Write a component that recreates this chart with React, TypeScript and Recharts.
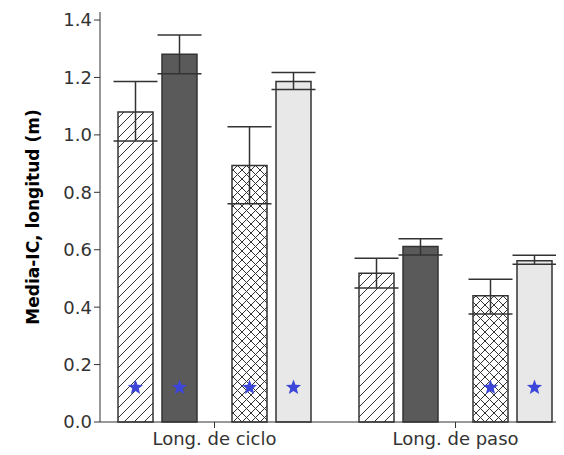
import { BarChart, Bar, XAxis, YAxis, ErrorBar, LabelList } from "recharts";

const categories = ["Long. de ciclo", "Long. de paso"];
const means1 = [1.08, 0.518];
const means2 = [1.281, 0.611];
const means3 = [0.893, 0.44];
const means4 = [1.186, 0.562];
// [lower, upper] of the CI
const ci1 = [[0.979, 1.186], [0.467, 0.57]];
const ci2 = [[1.213, 1.348], [0.582, 0.638]];
const ci3 = [[0.76, 1.028], [0.376, 0.497]];
const ci4 = [[1.158, 1.217], [0.549, 0.581]];
// star markers (significance), null = none
const stars1 = [0.12, null];
const stars2 = [0.12, null];
const stars3 = [0.12, 0.12];
const stars4 = [0.12, 0.12];
const yTicks = [0, 0.2, 0.4, 0.6, 0.8, 1.0, 1.2, 1.4];

const means = [means1, means2, means3, means4];
const cis = [ci1, ci2, ci3, ci4];
const stars = [stars1, stars2, stars3, stars4];

const data = categories.map((name, i) => {
  const row: any = { name };
  means.forEach((m, k) => {
    row[`v${k}`] = m[i];
    row[`e${k}`] = [m[i] - cis[k][i][0], cis[k][i][1] - m[i]];
    row[`s${k}`] = stars[k][i];
  });
  return row;
});

const FONT = "DejaVu Sans, Verdana, sans-serif";

function starPath(cx: number, cy: number, ro: number, ri: number) {
  const pts: string[] = [];
  for (let i = 0; i < 10; i++) {
    const r = i % 2 === 0 ? ro : ri;
    const a = -Math.PI / 2 + (i * Math.PI) / 5;
    pts.push(`${cx + r * Math.cos(a)},${cy + r * Math.sin(a)}`);
  }
  return pts.join(" ");
}

const makeStar = (k: number) => (props: any) => {
  const { x, y, width, height, value, index } = props;
  if (value == null) return null;
  const barVal = data[index][`v${k}`];
  const cx = x + width / 2;
  const cy = y + height - (height * value) / barVal;
  return <polygon key={`st-${k}-${index}`} points={starPath(cx, cy, 8, 3.4)} fill="#3c46d8" />;
};

const fills = ["url(#hatch)", "#5a5a5a", "url(#cross)", "#e8e8e8"];

export default function App() {
  return (
    <BarChart
      width={556}
      height={447}
      data={data}
      margin={{ top: 4, right: 0, left: 0, bottom: 0 }}
      barGap={9}
    >
      <defs>
        <pattern id="hatch" patternUnits="userSpaceOnUse" width="10" height="10">
          <rect width="10" height="10" fill="#fff" />
          <path d="M-1,11 L11,-1 M-6,6 L6,-6 M4,16 L16,4" stroke="#333" strokeWidth="1" />
        </pattern>
        <pattern id="cross" patternUnits="userSpaceOnUse" width="9" height="9">
          <rect width="9" height="9" fill="#fff" />
          <path d="M0,0 L9,9 M9,0 L0,9" stroke="#333" strokeWidth="1" />
        </pattern>
      </defs>
      <XAxis
        dataKey="name"
        padding={{ left: -6, right: -12 }}
        stroke="#333"
        tickSize={6}
        height={33}
        tick={{ fill: "#333", fontSize: 18, fontFamily: FONT, dy: 2 }}
      />
      <YAxis
        width={92}
        domain={[0, 1.428]}
        ticks={yTicks}
        tickFormatter={(v: number) => v.toFixed(1)}
        stroke="#333"
        tickSize={6}
        tick={{ fill: "#333", fontSize: 18, fontFamily: FONT }}
        label={{
          value: "Media-IC, longitud (m)",
          angle: -90,
          position: "insideLeft",
          dx: 20,
          style: { textAnchor: "middle", fill: "#000", fontSize: 17, fontWeight: "bold", fontFamily: FONT },
        }}
      />
      {[0, 1].map((k) => (
        <Bar key={k} dataKey={`v${k}`} barSize={35} fill={fills[k]} stroke="#333" strokeWidth={1.5} isAnimationActive={false}>
          <ErrorBar dataKey={`e${k}`} width={22} stroke="#333" strokeWidth={1.5} />
          <LabelList dataKey={`s${k}`} content={makeStar(k)} />
        </Bar>
      ))}
      <Bar dataKey="gap" barSize={17} fill="none" isAnimationActive={false} />
      {[2, 3].map((k) => (
        <Bar key={k} dataKey={`v${k}`} barSize={35} fill={fills[k]} stroke="#333" strokeWidth={1.5} isAnimationActive={false}>
          <ErrorBar dataKey={`e${k}`} width={22} stroke="#333" strokeWidth={1.5} />
          <LabelList dataKey={`s${k}`} content={makeStar(k)} />
        </Bar>
      ))}
    </BarChart>
  );
}
